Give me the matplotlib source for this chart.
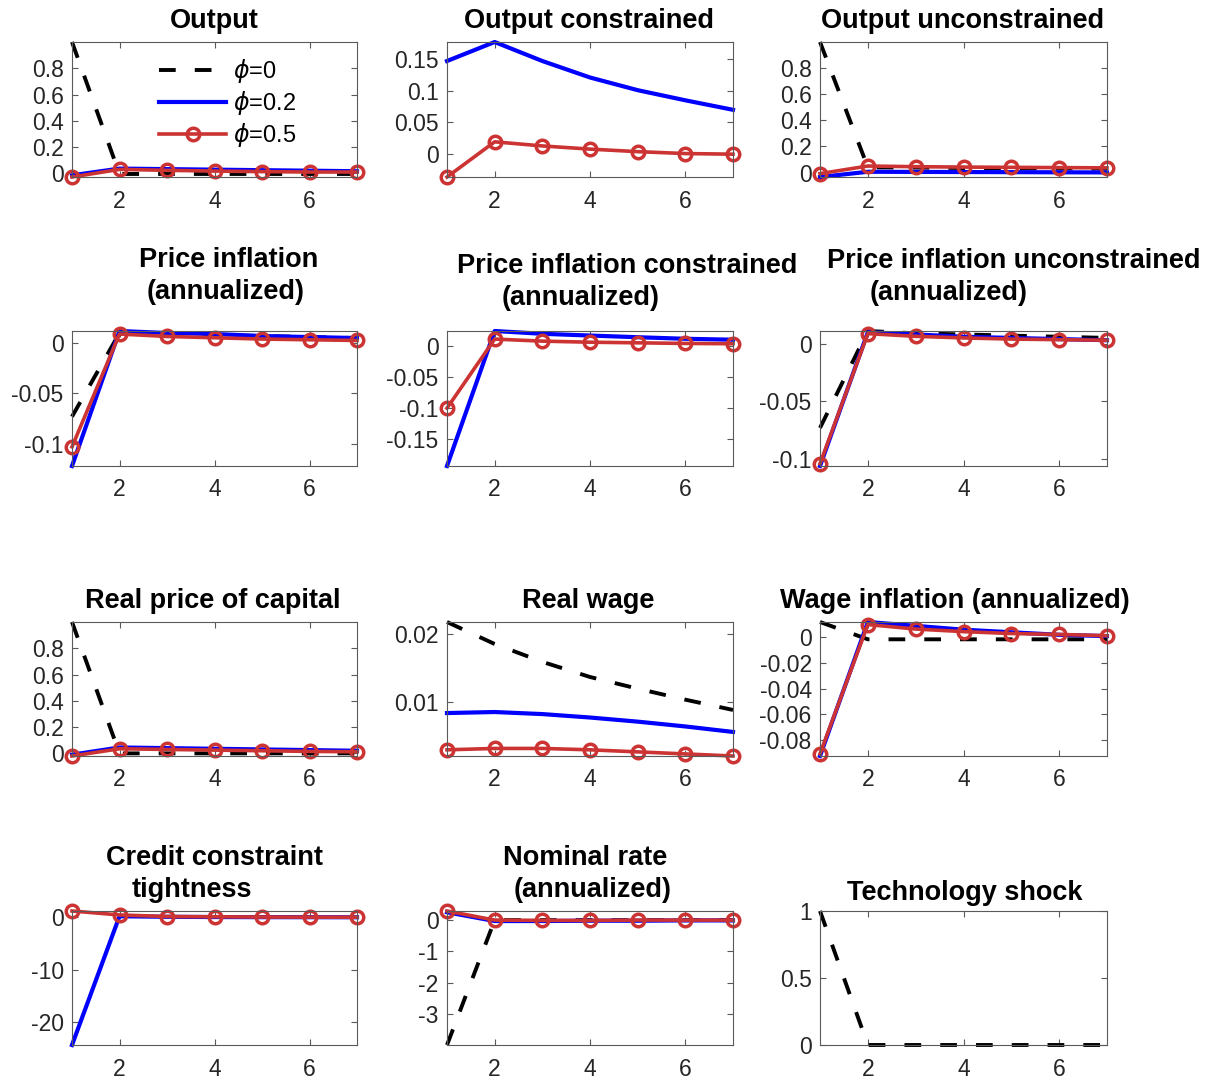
import numpy as np
import matplotlib
matplotlib.use("Agg")
import matplotlib.pyplot as plt
from matplotlib.ticker import FuncFormatter

plt.rcParams['font.family'] = ['Liberation Sans', 'DejaVu Sans']
plt.rcParams['axes.unicode_minus'] = False
plt.rcParams['mathtext.fontset'] = 'dejavusans'

# horizon (quarters)
periods = [1, 2, 3, 4, 5, 6, 7]

# impulse responses: phi=0, phi=0.2, phi=0.5
output_phi0 = [1.0, -0.005, -0.005, -0.005, -0.005, -0.005, -0.005]
output_phi02 = [-0.015, 0.036, 0.032, 0.028, 0.024, 0.02, 0.016]
output_phi05 = [-0.028, 0.03, 0.023, 0.017, 0.013, 0.01, 0.01]

outc_phi02 = [0.147, 0.177, 0.147, 0.121, 0.101, 0.085, 0.070]
outc_phi05 = [-0.036, 0.0195, 0.013, 0.008, 0.004, 0.001, 0.0]

outu_phi0 = [1.0, 0.04, 0.038, 0.035, 0.033, 0.031, 0.03]
outu_phi02 = [-0.034, 0.006, 0.005, 0.004, 0.003, 0.002, 0.001]
outu_phi05 = [-0.008, 0.05, 0.045, 0.042, 0.04, 0.038, 0.036]

pinf_phi0 = [-0.073, 0.010, 0.009, 0.008, 0.007, 0.006, 0.005]
pinf_phi02 = [-0.122, 0.012, 0.010, 0.009, 0.007, 0.006, 0.005]
pinf_phi05 = [-0.103, 0.009, 0.0066, 0.0053, 0.004, 0.0033, 0.0026]

pinfc_phi02 = [-0.193, 0.024, 0.0195, 0.0167, 0.014, 0.0115, 0.010]
pinfc_phi05 = [-0.100, 0.011, 0.0077, 0.006, 0.005, 0.004, 0.0035]

pinfu_phi0 = [-0.073, 0.011, 0.009, 0.008, 0.007, 0.006, 0.005]
pinfu_phi02 = [-0.106, 0.010, 0.008, 0.006, 0.005, 0.004, 0.003]
pinfu_phi05 = [-0.104, 0.0087, 0.0064, 0.005, 0.004, 0.0035, 0.003]

qk_phi0 = [1.0, 0.0, 0.0, 0.0, 0.0, 0.0, 0.0]
qk_phi02 = [-0.01, 0.045, 0.04, 0.035, 0.03, 0.025, 0.02]
qk_phi05 = [-0.02, 0.035, 0.03, 0.025, 0.02, 0.015, 0.012]

wage_phi0 = [0.0217, 0.0185, 0.0159, 0.0137, 0.0120, 0.0104, 0.0089]
wage_phi02 = [0.00845, 0.0086, 0.0083, 0.0078, 0.0072, 0.0065, 0.0057]
wage_phi05 = [0.0031, 0.0033, 0.0033, 0.0031, 0.0028, 0.0025, 0.0022]

winf_phi0 = [0.012, -0.0015, -0.0015, -0.0015, -0.0015, -0.0015, -0.0015]
winf_phi02 = [-0.0925, 0.012, 0.009, 0.006, 0.004, 0.002, 0.001]
winf_phi05 = [-0.0908, 0.010, 0.0065, 0.0045, 0.003, 0.0023, 0.0013]

credit_phi02 = [-24.3, 0.2, 0.1, 0.05, 0.03, 0.02, 0.01]
credit_phi05 = [1.2, 0.45, 0.15, 0.1, 0.05, 0.03, 0.02]

rate_phi0 = [-3.98, 0.0, 0.0, 0.0, 0.0, 0.0, 0.0]
rate_phi02 = [0.25, -0.03, -0.03, -0.02, -0.02, -0.01, -0.01]
rate_phi05 = [0.29, 0.0, -0.01, -0.01, 0.0, 0.0, 0.0]

tech_phi0 = [1.0, 0.0, 0.0, 0.0, 0.0, 0.0, 0.0]

legend_labels = [r'$\phi$=0', r'$\phi$=0.2', r'$\phi$=0.5']

# title lines, with (centre x, baseline y) in pixels
titles = [
    [("Output", 214, 28)],
    [("Output constrained", 589, 28)],
    [("Output unconstrained", 963, 28)],
    [("Price inflation", 229, 267), ("(annualized)", 226, 299)],
    [("Price inflation constrained", 627, 273), ("(annualized)", 581, 305)],
    [("Price inflation unconstrained", 1014, 268), ("(annualized)", 949, 300)],
    [("Real price of capital", 213, 608)],
    [("Real wage", 588, 608)],
    [("Wage inflation (annualized)", 955, 608)],
    [("Credit constraint", 214, 865), ("tightness", 192, 897)],
    [("Nominal rate", 585, 865), ("(annualized)", 593, 897)],
    [("Technology shock", 965, 900)],
]

series = [
    (output_phi0, output_phi02, output_phi05),
    (None, outc_phi02, outc_phi05),
    (outu_phi0, outu_phi02, outu_phi05),
    (pinf_phi0, pinf_phi02, pinf_phi05),
    (None, pinfc_phi02, pinfc_phi05),
    (pinfu_phi0, pinfu_phi02, pinfu_phi05),
    (qk_phi0, qk_phi02, qk_phi05),
    (wage_phi0, wage_phi02, wage_phi05),
    (winf_phi0, winf_phi02, winf_phi05),
    (None, credit_phi02, credit_phi05),
    (rate_phi0, rate_phi02, rate_phi05),
    (tech_phi0, None, None),
]

yticks = [
    [0, 0.2, 0.4, 0.6, 0.8],
    [0, 0.05, 0.1, 0.15],
    [0, 0.2, 0.4, 0.6, 0.8],
    [-0.1, -0.05, 0],
    [-0.15, -0.1, -0.05, 0],
    [-0.1, -0.05, 0],
    [0, 0.2, 0.4, 0.6, 0.8],
    [0.01, 0.02],
    [-0.08, -0.06, -0.04, -0.02, 0],
    [-20, -10, 0],
    [-3, -2, -1, 0],
    [0, 0.5, 1],
]

W, H = 1209, 1080
col_left = [72, 447, 820]
col_width = [285, 286, 287]
row_top = [42, 331, 622, 911]
row_height = [135, 135, 134, 134]

red = '#cc3333'
fig = plt.figure(figsize=(W / 100, H / 100), dpi=100)

for i in range(12):
    r, c = divmod(i, 3)
    ax = fig.add_axes([col_left[c] / W, 1 - (row_top[r] + row_height[r]) / H,
                       col_width[c] / W, row_height[r] / H])
    y0, y2, y5 = series[i]
    handles = []
    if y0 is not None:
        h, = ax.plot(periods, y0, color='black', lw=2.8, ls='--', dashes=(4.3, 4.9),
                     clip_on=False, label=legend_labels[0])
        handles.append(h)
    if y2 is not None:
        h, = ax.plot(periods, y2, color='blue', lw=3.0, clip_on=False, label=legend_labels[1])
        handles.append(h)
    if y5 is not None:
        h, = ax.plot(periods, y5, color=red, lw=2.6, marker='o', ms=9, mew=2.5,
                     mfc='none', mec=red, clip_on=False, label=legend_labels[2])
        handles.append(h)

    vals = np.concatenate([np.asarray(s) for s in series[i] if s is not None])
    ax.set_ylim(vals.min(), vals.max())
    ax.set_xlim(1, 7)
    ax.set_xticks([2, 4, 6])
    ax.set_yticks(yticks[i])
    ax.yaxis.set_major_formatter(FuncFormatter(lambda v, p: '%g' % v))
    ax.tick_params(direction='in', top=True, right=True, length=4, width=0.8,
                   colors='#5a5a5a', labelcolor='#262626', labelsize=16.5)
    ax.tick_params(axis='x', pad=9)
    ax.tick_params(axis='y', pad=6)
    for sp in ax.spines.values():
        sp.set_color('#5a5a5a')
        sp.set_linewidth(0.8)

    for text, xc, yb in titles[i]:
        fig.text(xc / W, 1 - yb / H, text, ha='center', va='baseline',
                 fontsize=19.5, fontweight='bold', color='black')

    if i == 0:
        ax.legend(handles=handles, loc='upper left', bbox_to_anchor=(0.307, 0.89),
                  frameon=False, fontsize=17, handlelength=2.8, handletextpad=0.3,
                  labelspacing=0.17, borderpad=0, borderaxespad=0)

fig.savefig('out.png', dpi=100)
